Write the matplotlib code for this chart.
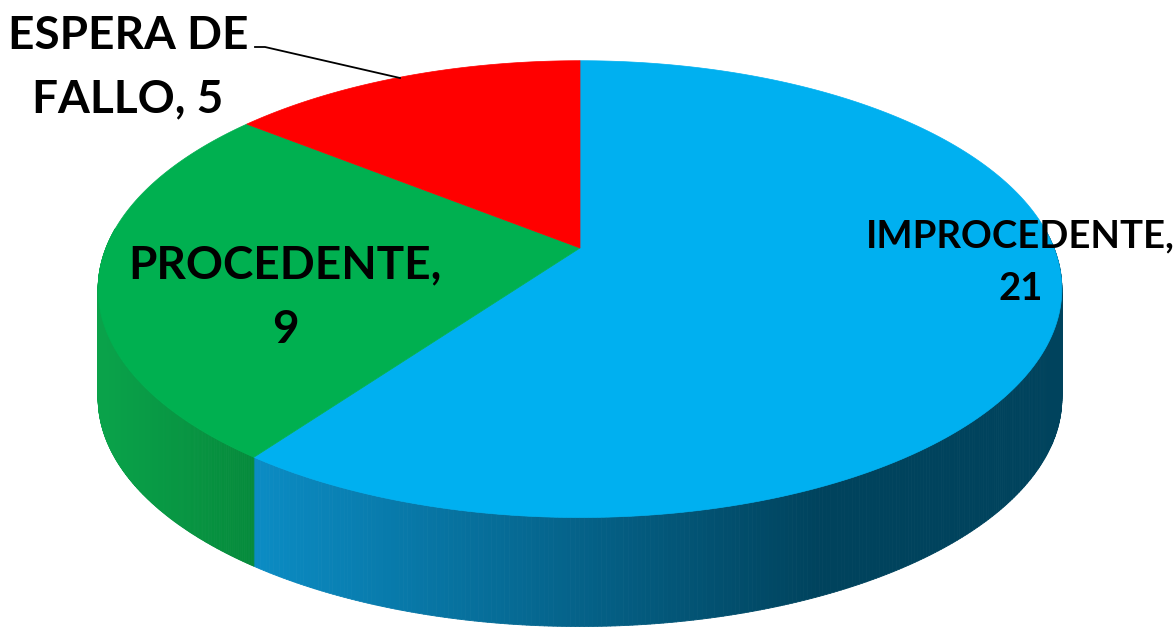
import numpy as np
import matplotlib.pyplot as plt
from matplotlib.collections import PolyCollection
from matplotlib.colors import to_rgb

# datos
categorias = ['IMPROCEDENTE', 'PROCEDENTE', 'ESPERA DE FALLO']
valores = [21, 9, 5]
colores_top = ['#00b0f0', '#00b050', '#ff0000']
# gradiente del lateral (izquierda -> derecha)
colores_lado = [('#0b8cc4', '#00435d'), ('#0aa24a', '#058a3b'), ('#d00000', '#900000')]

# geometria del pastel en pixeles
CX, CY = 580, 248
RX, RY = 474, 221
K = 0.18       # perspectiva
DEPTH = 109    # grosor


def proj(t, depth=0.0):
    v = np.sin(t)
    w = 1 + K * v
    return CX + RX * np.cos(t) / w, CY - RY * v / w + depth


fig = plt.figure(figsize=(11.74, 6.3), dpi=100)
ax = fig.add_axes([0, 0, 1, 1])
ax.set_xlim(0, 1174)
ax.set_ylim(630, 0)
ax.axis('off')

total = sum(valores)
angulos = [np.pi / 2]
for v in valores:
    angulos.append(angulos[-1] - 2 * np.pi * v / total)

# laterales
for i in range(len(valores)):
    a0, a1 = angulos[i], angulos[i + 1]
    lo, hi = max(a1, -np.pi - 0.09), min(a0, 0.09)
    if hi <= lo:
        continue
    ts = np.linspace(hi, lo, 300)
    polys, cols = [], []
    c0, c1 = np.array(to_rgb(colores_lado[i][0])), np.array(to_rgb(colores_lado[i][1]))
    for ta, tb in zip(ts[:-1], ts[1:]):
        xa, ya = proj(ta)
        xb, yb = proj(tb)
        xa2, ya2 = proj(ta, DEPTH)
        xb2, yb2 = proj(tb, DEPTH)
        polys.append([(xa, ya), (xb, yb), (xb2, yb2), (xa2, ya2)])
        xm = (xa + xb) / 2
        if i == 0:
            f = np.clip((xm - 255) / (820 - 255), 0, 1)
        else:
            f = np.clip((xm - 105) / (255 - 105), 0, 1)
        cols.append(c0 * (1 - f) + c1 * f)
    ax.add_collection(PolyCollection(polys, facecolors=cols, edgecolors=cols, linewidths=0.6, zorder=1))

# cara superior
for i in range(len(valores)):
    ts = np.linspace(angulos[i], angulos[i + 1], 200)
    xs, ys = proj(ts)
    pts = [(CX, CY)] + list(zip(xs, ys))
    ax.add_patch(plt.Polygon(pts, closed=True, facecolor=colores_top[i],
                             edgecolor=colores_top[i], linewidth=0.5, zorder=2))

# etiquetas
fuente = ['Lato', 'DejaVu Sans']
ax.text(1020, 247, f'{categorias[0]},', fontsize=27.5, fontweight='bold', family=fuente,
        ha='center', va='baseline', zorder=3)
ax.text(1021, 300, f'{valores[0]}', fontsize=27.5, fontweight='bold', family=fuente,
        ha='center', va='baseline', zorder=3)
ax.text(285, 278, f'{categorias[1]},', fontsize=33, fontweight='bold', family=fuente,
        ha='center', va='baseline', zorder=3)
ax.text(285, 343, f'{valores[1]}', fontsize=33, fontweight='bold', family=fuente,
        ha='center', va='baseline', zorder=3)
ax.text(128, 49, 'ESPERA DE', fontsize=33, fontweight='bold', family=fuente,
        ha='center', va='baseline', zorder=3)
ax.text(128, 112, f'FALLO, {valores[2]}', fontsize=33, fontweight='bold', family=fuente,
        ha='center', va='baseline', zorder=3)

# linea guia
ax.plot([255, 265, 400], [47, 47, 78], color='black', linewidth=1.3, zorder=3)

fig.savefig('out.png', dpi=100, facecolor='white')
